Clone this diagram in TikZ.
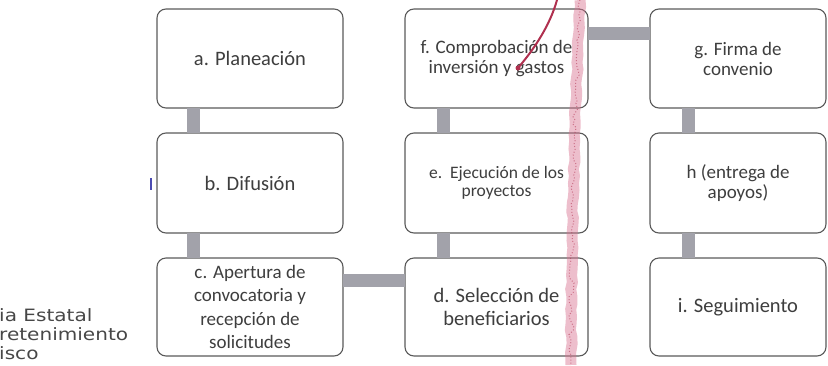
\documentclass[tikz,border=0pt]{standalone}
\usepackage{fontspec}
\setmainfont{Carlito}
\newfontfamily\stampfont[FakeStretch=1.18]{DejaVu Sans}
\usetikzlibrary{calc,decorations.pathmorphing}
\definecolor{boxline}{HTML}{5A5A5A}
\definecolor{txt}{HTML}{3E3E3E}
\definecolor{bar}{HTML}{A2A2AA}
\definecolor{pen}{HTML}{D8708E}
\definecolor{pendark}{HTML}{B0304F}
\tikzset{
  stepbox/.style={draw=boxline, line width=1.1pt, rounded corners=9pt, fill=white,
    text=txt, align=center, inner sep=0pt, outer sep=0pt, anchor=north west},
  link/.style={draw=bar, line width=13pt},
  big/.style={font=\fontsize{20.5}{23.5}\selectfont},
  cbig/.style={font=\fontsize{19}{23.5}\selectfont},
  mid/.style={font=\fontsize{19}{20}\selectfont},
  small/.style={font=\fontsize{17.5}{18.5}\selectfont},
}
\begin{document}
\begin{tikzpicture}[x=1pt,y=-1pt]
\useasboundingbox (0,0) rectangle (828,365);
% column 1
\node[stepbox, big, minimum width=186pt, minimum height=99pt] (a) at (157,9) {a. Planeación};
\node[stepbox, big, minimum width=186pt, minimum height=100pt] (b) at (157,133) {b. Difusión};
\node[stepbox, cbig, minimum width=186pt, minimum height=98pt] (c) at (157,258) {c. Apertura de\\convocatoria y\\recepción de\\solicitudes};
% column 2
\node[stepbox, mid, minimum width=183pt, minimum height=99pt] (f) at (405,9) {f. Comprobación de\\inversión y gastos};
\node[stepbox, small, minimum width=183pt, minimum height=100pt] (e) at (405,133) {e.\ \ Ejecución de los\\proyectos};
\node[stepbox, big, minimum width=183pt, minimum height=98pt] (d) at (405,258) {d. Selección de\\beneficiarios};
% column 3
\node[stepbox, mid, minimum width=176pt, minimum height=99pt] (g) at (650,9) {g. Firma de\\convenio};
\node[stepbox, mid, minimum width=176pt, minimum height=100pt] (h) at (650,133) {h (entrega de\\apoyos)};
\node[stepbox, big, minimum width=176pt, minimum height=98pt] (i) at (650,258) {i. Seguimiento};
% connectors
\draw[link] ($(a.south west)+(36,0)$) -- ($(b.north west)+(36,0)$);
\draw[link] ($(b.south west)+(36,0)$) -- ($(c.north west)+(36,0)$);
\draw[link] ($(c.north east)+(0,22)$) -- ($(d.north west)+(0,22)$);
\draw[link] ($(d.north west)+(38,0)$) -- ($(e.south west)+(38,0)$);
\draw[link] ($(e.north west)+(38,0)$) -- ($(f.south west)+(38,0)$);
\draw[link] ($(f.north east)+(0,24)$) -- ($(g.north west)+(0,24)$);
\draw[link] ($(g.south west)+(38,0)$) -- ($(h.north west)+(38,0)$);
\draw[link] ($(h.south west)+(38,0)$) -- ($(i.north west)+(38,0)$);
% stamp text at left
\node[anchor=north west, inner sep=0pt, align=left, text=black!72,
  font=\stampfont\fontsize{17}{19}\selectfont] (stamp) at (-1,308) {ia Estatal\\retenimiento\\isco};
% small tick mark
\draw[color=gray!60!blue, line width=1.5pt] (151,178) -- (151,190);
% red pen marks
\draw[pen, line width=11pt, opacity=0.45, decorate,
  decoration={random steps, segment length=7pt, amplitude=1pt}]
  (580,0) -- (575,120) -- (572,240) -- (571,365);
\draw[pendark, line width=1pt, opacity=0.55, dotted, decorate,
  decoration={random steps, segment length=5pt, amplitude=2.5pt}]
  (580,0) -- (575,120) -- (572,240) -- (571,365);
\draw[pendark, line width=2pt, line cap=round]
  (557,0) .. controls (550,25) and (535,48) .. (518,68);
\fill[pendark] (518,68) circle (2.5pt);
\end{tikzpicture}
\end{document}
